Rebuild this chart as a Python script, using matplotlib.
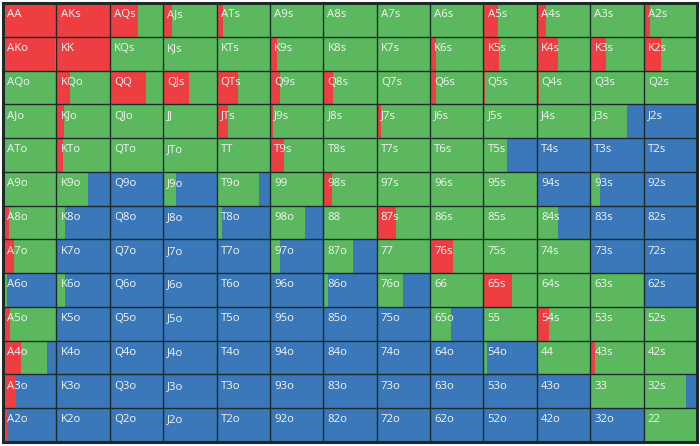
"""
プリフロップ レンジ表（13x13）の再現。
各セルを raise / call / fold の割合で横に塗り分ける。
"""

import matplotlib
matplotlib.use("Agg")
import matplotlib.pyplot as plt

# ── データ ──────────────────────────────────
RANKS = ["A", "K", "Q", "J", "T", "9", "8", "7", "6", "5", "4", "3", "2"]

# raise 割合（%）  行 = 1枚目, 列 = 2枚目
RAISE = [
    [100, 100, 53, 16, 12, 0, 0, 0, 0, 27, 17, 0, 12],
    [97, 100, 0, 0, 0, 14, 0, 2, 12, 29, 39, 29, 32],
    [0, 25, 68, 48, 41, 18, 19, 3, 12, 3, 4, 0, 0],
    [0, 14, 2, 2, 21, 5, 0, 9, 0, 0, 0, 0, 0],
    [4, 12, 0, 0, 0, 26, 0, 0, 0, 0, 0, 0, 0],
    [0, 0, 0, 0, 0, 0, 16, 0, 0, 0, 0, 0, 0],
    [12, 0, 0, 0, 0, 0, 0, 36, 0, 0, 0, 0, 0],
    [20, 0, 0, 0, 0, 0, 0, 0, 43, 0, 0, 0, 0],
    [0, 0, 0, 0, 0, 0, 0, 0, 0, 53, 0, 0, 0],
    [13, 0, 0, 0, 0, 0, 0, 0, 0, 0, 23, 0, 0],
    [34, 0, 0, 0, 0, 0, 0, 0, 0, 0, 0, 9, 0],
    [24, 0, 0, 0, 0, 0, 0, 0, 0, 0, 0, 0, 0],
    [8, 0, 0, 0, 0, 0, 0, 0, 0, 0, 0, 0, 0],
]

# call 割合（%）  残りは fold
CALL = [
    [0, 0, 47, 84, 88, 100, 100, 100, 100, 73, 83, 100, 88],
    [3, 0, 100, 100, 100, 86, 100, 98, 88, 71, 61, 71, 68],
    [100, 75, 32, 52, 59, 82, 81, 97, 88, 97, 96, 100, 100],
    [100, 86, 98, 98, 79, 95, 100, 91, 100, 100, 100, 69, 0],
    [96, 88, 100, 100, 100, 74, 100, 100, 100, 45, 0, 0, 0],
    [100, 60, 0, 24, 79, 100, 84, 100, 100, 100, 0, 18, 0],
    [88, 17, 0, 0, 10, 65, 100, 64, 100, 100, 39, 0, 0],
    [80, 0, 0, 0, 0, 19, 56, 100, 57, 100, 100, 0, 0],
    [8, 16, 0, 0, 0, 0, 9, 49, 100, 47, 100, 100, 0],
    [87, 0, 0, 0, 0, 0, 0, 0, 39, 100, 77, 100, 100],
    [49, 0, 0, 0, 0, 0, 0, 0, 0, 7, 100, 91, 100],
    [0, 0, 0, 0, 0, 0, 0, 0, 0, 0, 0, 100, 79],
    [0, 0, 0, 0, 0, 0, 0, 0, 0, 0, 0, 0, 100],
]

RED = "#ee3e42"
GREEN = "#5cb85f"
BLUE = "#3a78b9"
LINE = "#1c2a2c"


def hand_label(i, j):
    if i == j:
        return RANKS[i] * 2
    if i < j:
        return RANKS[i] + RANKS[j] + "s"
    return RANKS[j] + RANKS[i] + "o"


plt.rcParams["font.family"] = ["Open Sans", "DejaVu Sans"]

fig = plt.figure(figsize=(7.0, 4.46), dpi=100)
ax = fig.add_axes([3 / 700, 4 / 446, 694 / 700, 439 / 446])

n = len(RANKS)
for i in range(n):
    rows = [i] * n
    lefts = list(range(n))
    r = [v / 100 for v in RAISE[i]]
    c = [v / 100 for v in CALL[i]]
    f = [max(0.0, 1 - a - b) for a, b in zip(r, c)]
    ax.barh(rows, r, left=lefts, height=1.0, color=RED, linewidth=0)
    ax.barh(rows, c, left=[x + a for x, a in zip(lefts, r)], height=1.0, color=GREEN, linewidth=0)
    ax.barh(rows, f, left=[x + a + b for x, a, b in zip(lefts, r, c)], height=1.0,
            color=BLUE, linewidth=0)
    for j in range(n):
        ax.annotate(hand_label(i, j), xy=(j, i - 0.5), xytext=(3, -4.5),
                    textcoords="offset points", ha="left", va="top",
                    fontsize=8.2, color="#f4f4f4")

# 枠線
for k in range(1, n):
    ax.axvline(k, color=LINE, linewidth=1.0)
    ax.axhline(k - 0.5, color=LINE, linewidth=1.0)

ax.set_xlim(0, n)
ax.set_ylim(n - 0.5, -0.5)
ax.set_xticks([])
ax.set_yticks([])
for sp in ax.spines.values():
    sp.set_color(LINE)
    sp.set_linewidth(2.2)

fig.savefig("out.png", dpi=100, facecolor="white")
